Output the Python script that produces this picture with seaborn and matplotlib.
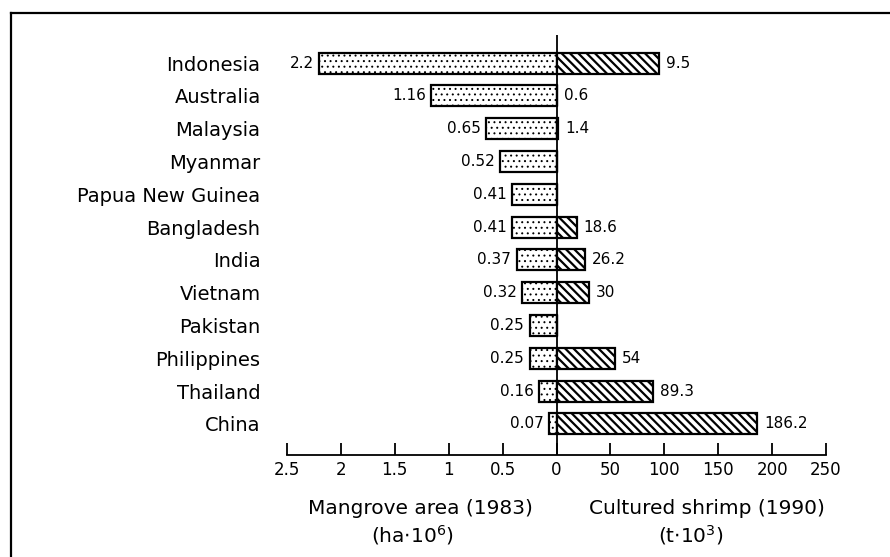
import numpy as np
import pandas as pd
import matplotlib
matplotlib.use("Agg")
import matplotlib.pyplot as plt
import seaborn as sns
from matplotlib.lines import Line2D

# ---------------- data ----------------
countries = ["Indonesia", "Australia", "Malaysia", "Myanmar", "Papua New Guinea",
             "Bangladesh", "India", "Vietnam", "Pakistan", "Philippines",
             "Thailand", "China"]
# Mangrove area 1983 (ha x 10^6)
mangrove_area = [2.2, 1.16, 0.65, 0.52, 0.41, 0.41, 0.37, 0.32, 0.25, 0.25, 0.16, 0.07]
mangrove_labels = ["2.2", "1.16", "0.65", "0.52", "0.41", "0.41", "0.37", "0.32",
                   "0.25", "0.25", "0.16", "0.07"]
# Cultured shrimp 1990 (t x 10^3) - bar lengths as drawn in the original
shrimp = [95, 0.6, 1.4, 0, 0, 18.6, 26.2, 30, 0, 54, 89.3, 186.2]
shrimp_labels = ["9.5", "0.6", "1.4", "", "", "18.6", "26.2", "30", "", "54", "89.3", "186.2"]

tick_values = [-250, -200, -150, -100, -50, 0, 50, 100, 150, 200, 250]
tick_labels = ["2.5", "2", "1.5", "1", "0.5", "0", "50", "100", "150", "200", "250"]
MANGROVE_SCALE = 100  # 1 ha*10^6 drawn as 100 units on the shared axis

# ---------------- figure ----------------
W, H = 890, 557
plt.rcParams["font.family"] = ["DejaVu Sans"]

fig = plt.figure(figsize=(W / 100, H / 100), dpi=100)
ax = fig.add_axes([287 / W, 1 - 455 / H, (826 - 287) / W, (455 - 35) / H])

df = pd.DataFrame({
    "country": countries,
    "mangrove": -np.array(mangrove_area) * MANGROVE_SCALE,
    "shrimp": shrimp,
})

plt.rcParams["hatch.linewidth"] = 0.7
sns.barplot(data=df, y="country", x="mangrove", orient="h", color="white",
            saturation=1, edgecolor="black", linewidth=1.6, hatch="...",
            width=0.64, errorbar=None, ax=ax)
for p in ax.containers[0]:
    if hasattr(p, "set_hatch_linewidth"):
        p.set_hatch_linewidth(0.7)

plt.rcParams["hatch.linewidth"] = 1.6
sns.barplot(data=df, y="country", x="shrimp", orient="h", color="white",
            saturation=1, edgecolor="black", linewidth=1.6, hatch="\\\\\\\\",
            width=0.64, errorbar=None, ax=ax)
for p in ax.containers[1]:
    if hasattr(p, "set_hatch_linewidth"):
        p.set_hatch_linewidth(1.6)

ax.axvline(0, color="black", lw=1.3, zorder=5)

for i, (v, lab) in enumerate(zip(mangrove_area, mangrove_labels)):
    ax.annotate(lab, xy=(-v * MANGROVE_SCALE, i), xytext=(-4, 0),
                textcoords="offset points", ha="right", va="center", fontsize=11)
for i, (v, lab) in enumerate(zip(shrimp, shrimp_labels)):
    if lab:
        ax.annotate(lab, xy=(v, i), xytext=(5, 0),
                    textcoords="offset points", ha="left", va="center", fontsize=11)

ax.set_xlim(-250, 250)
ax.set_ylim(11 + (455 - 424) / 32.8, -(63 - 35) / 32.8)
ax.set_xticks(tick_values)
ax.set_xticklabels(tick_labels)
ax.set_xlabel("")
ax.set_ylabel("")
for s in ["top", "right", "left"]:
    ax.spines[s].set_visible(False)
ax.spines["bottom"].set_linewidth(1.3)
ax.tick_params(axis="x", direction="in", length=9, width=1.3, pad=4, labelsize=12)
ax.tick_params(axis="y", length=0, pad=19, labelsize=14)
ax.set_facecolor("none")

# axis titles
fig.text(420 / W, 1 - 508 / H, "Mangrove area (1983)", ha="center", va="center", fontsize=14.5)
fig.text(412 / W, 1 - 535 / H, r"(ha$\cdot$10$^{6}$)", ha="center", va="center", fontsize=14.5)
fig.text(707 / W, 1 - 508 / H, "Cultured shrimp (1990)", ha="center", va="center", fontsize=14.5)
fig.text(691 / W, 1 - 535 / H, r"(t$\cdot$10$^{3}$)", ha="center", va="center", fontsize=14.5)

# frame lines (top and left)
fig.add_artist(Line2D([11 / W, 1], [1 - 13 / H, 1 - 13 / H], transform=fig.transFigure,
                      color="black", lw=1.6))
fig.add_artist(Line2D([11 / W, 11 / W], [0, 1 - 13 / H], transform=fig.transFigure,
                      color="black", lw=1.6))

fig.savefig("out.png", dpi=100)
